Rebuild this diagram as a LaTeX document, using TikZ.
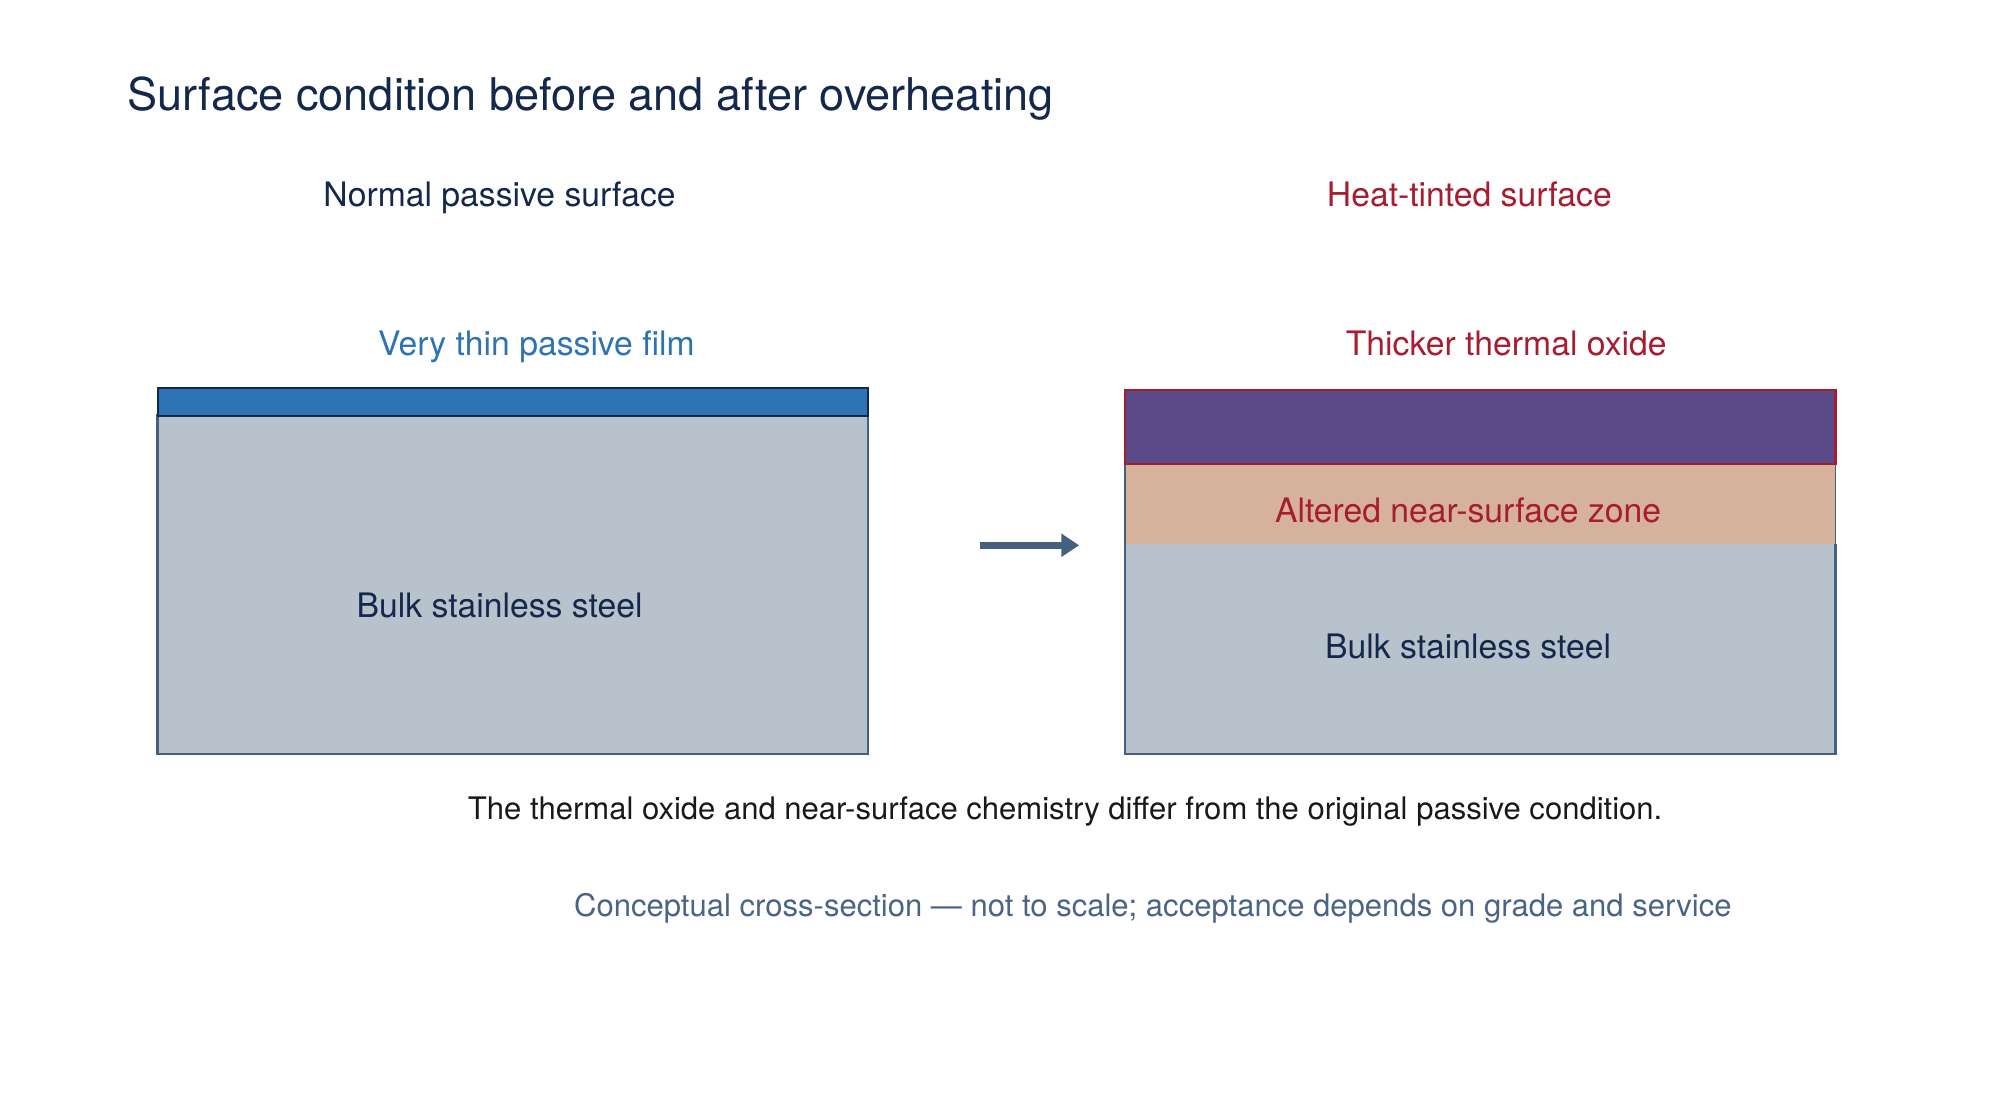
\documentclass[tikz,border=0pt]{standalone}
\usepackage{fontspec}
\setmainfont{TeX Gyre Heros}
\usetikzlibrary{arrows.meta}
\definecolor{navy}{HTML}{14284B}
\definecolor{tintred}{HTML}{A81C30}
\definecolor{filmblue}{HTML}{2E73B4}
\definecolor{steelgray}{HTML}{B8C2CC}
\definecolor{slate}{HTML}{45607F}
\definecolor{oxidepurple}{HTML}{5A4A87}
\definecolor{zonetan}{HTML}{D6B29D}
\definecolor{notegray}{HTML}{4A6487}
\tikzset{lbl/.style={anchor=base,inner sep=0pt,font=\fontsize{15.1}{18}\selectfont},
         small/.style={anchor=base,inner sep=0pt,font=\fontsize{13.9}{16}\selectfont}}

\begin{document}
\begin{tikzpicture}[x=0.02cm,y=-0.02cm]
  \useasboundingbox (0,0) rectangle (1568,870);
  % before
  \draw[fill=steelgray,draw=slate,line width=1.1pt] (124,327) rectangle (683,593);
  \draw[fill=filmblue,draw=navy,line width=0.9pt] (124,305) rectangle (683,327);
  % after
  \fill[steelgray] (885,428) rectangle (1444,593);
  \fill[zonetan] (885,365) rectangle (1444,428);
  \draw[draw=slate,line width=0.7pt] (885,365) -- (885,428) (1444,365) -- (1444,428);
  \draw[draw=slate,line width=1.1pt] (885,428) -- (885,593) -- (1444,593) -- (1444,428);
  \draw[fill=oxidepurple,draw=tintred,line width=1.1pt] (885,307) rectangle (1444,365);
  % texts
  \node[anchor=base west,inner sep=0pt,text=navy,font=\fontsize{20.2}{24}\selectfont] (title) at (100,87) {Surface condition before and after overheating};
  \node[lbl,text=navy] (normalhead) at (393,162.5) {Normal passive surface};
  \node[lbl,text=tintred] (tintedhead) at (1156,162.5) {Heat-tinted surface};
  \node[lbl,text=filmblue] (filmlbl) at (422,279.5) {Very thin passive film};
  \node[lbl,text=tintred] (oxidelbl) at (1185,279.5) {Thicker thermal oxide};
  \node[lbl,text=navy] (bulkleft) at (393,486) {Bulk stainless steel};
  \node[lbl,text=tintred] (zonelbl) at (1155,411) {Altered near-surface zone};
  \node[lbl,text=navy] (bulkright) at (1155,518) {Bulk stainless steel};
  \node[small,text=black!90] (note) at (838,645) {The thermal oxide and near-surface chemistry differ from the original passive condition.};
  \node[small,text=notegray] (caveat) at (907,721) {Conceptual cross-section — not to scale; acceptance depends on grade and service};
  % arrow
  \coordinate (from) at (771,429);
  \coordinate (to) at (849,429);
  \draw[slate,line width=3pt,-{Triangle[length=8pt,width=10pt]}] (from) -- (to);
\end{tikzpicture}
\end{document}
